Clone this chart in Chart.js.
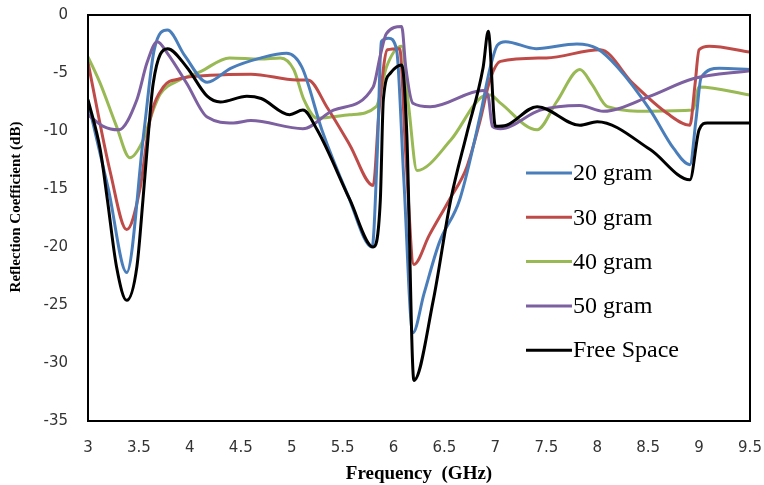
<!DOCTYPE html>
<html><head><meta charset="utf-8">
<script src="https://cdn.jsdelivr.net/npm/chart.js@4"></script>
<style>html,body{margin:0;padding:0;background:#fff}#wrap{width:764px;height:485px}</style>
</head><body><div id="wrap"><canvas id="c" width="764" height="485"></canvas></div>
<script>
const seriesNames = ["20 gram", "30 gram", "40 gram", "50 gram", "Free Space"];
const xTicks = [3, 3.5, 4, 4.5, 5, 5.5, 6, 6.5, 7, 7.5, 8, 8.5, 9, 9.5];
const yTicks = [0, -5, -10, -15, -20, -25, -30, -35];

const freq20 = [3.0,3.2,3.38,3.55,3.65,3.78,3.95,4.17,4.4,4.7,4.95,5.1,5.3,5.55,5.79,5.84,5.88,5.95,6.03,6.1,6.19,6.3,6.45,6.65,6.85,6.95,7.02,7.1,7.4,7.8,8.0,8.2,8.52,8.75,8.91,8.97,9.02,9.2,9.5];
const db20   = [-7.5,-15,-22.2,-10,-3,-1.3,-3.5,-5.8,-4.6,-3.7,-3.3,-4.5,-10,-15.5,-20,-12,-2.3,-2.0,-3.0,-14,-27.4,-24,-19.6,-15.9,-8.7,-4.5,-2.6,-2.3,-2.9,-2.5,-2.9,-4.5,-8.2,-11.5,-12.9,-9,-5.4,-4.6,-4.7];

const freq30 = [3.0,3.22,3.38,3.51,3.61,3.74,3.9,4.2,4.6,5.05,5.16,5.35,5.57,5.8,5.86,5.94,6.06,6.12,6.2,6.35,6.55,6.72,6.85,6.95,7.05,7.5,8.03,8.35,8.69,8.91,8.96,9.0,9.1,9.5];
const db30   = [-4.1,-13.6,-18.5,-15,-9,-6.2,-5.5,-5.2,-5.1,-5.6,-5.6,-8,-11.2,-14.7,-8,-3.0,-2.9,-12,-21.5,-19,-15.9,-13.1,-9.1,-5.5,-4.0,-3.7,-3.0,-5.9,-8.5,-9.5,-6,-3.0,-2.7,-3.2];

const freq40 = [3.0,3.12,3.28,3.41,3.54,3.64,3.71,3.9,4.1,4.39,4.69,4.89,5.02,5.12,5.25,5.57,5.83,5.93,6.08,6.15,6.23,6.56,6.88,6.95,7.05,7.41,7.6,7.83,7.95,8.1,8.52,8.94,9.0,9.5];
const db40   = [-3.6,-5.9,-9.6,-12.3,-10.8,-8.2,-6.8,-5.6,-4.9,-3.7,-3.8,-3.7,-4.7,-7.3,-8.9,-8.6,-7.9,-4.5,-2.7,-8,-13.4,-10.8,-7.0,-6.9,-7.6,-9.9,-7.5,-4.7,-6,-7.9,-8.3,-8.2,-6.2,-6.9];

const freq50 = [3.0,3.15,3.3,3.48,3.58,3.68,3.78,3.97,4.17,4.43,4.6,5.11,5.41,5.8,5.87,5.93,6.08,6.12,6.19,6.36,6.88,6.93,6.97,7.05,7.44,7.83,8.06,8.52,8.94,9.5];
const db50   = [-8.6,-9.6,-9.9,-7.3,-4.1,-2.3,-3.3,-5.9,-8.8,-9.3,-9.1,-9.8,-8.2,-6.2,-3.5,-1.6,-1.0,-4.5,-7.6,-7.9,-6.5,-7.0,-9.6,-9.8,-8.2,-7.8,-8.3,-7.0,-5.5,-4.8];

const freqFS = [3.0,3.12,3.19,3.28,3.38,3.48,3.54,3.58,3.64,3.78,3.97,4.17,4.3,4.56,4.7,4.98,5.11,5.25,5.57,5.8,5.87,5.9,5.97,6.08,6.13,6.2,6.39,6.56,6.72,6.88,6.93,7.0,7.11,7.41,7.83,8.0,8.52,8.91,9.0,9.08,9.5];
const dbFS   = [-7.3,-11.6,-15.9,-21.7,-24.6,-21.7,-15.9,-11.6,-5.9,-2.9,-4.5,-7.0,-7.5,-7.0,-7.2,-8.6,-8.2,-9.9,-15.9,-20,-16,-7.3,-5.0,-4.3,-10.2,-31.5,-24.6,-16,-10.2,-4.5,-1.4,-9.6,-9.5,-7.9,-9.5,-9.2,-11.6,-14.2,-9.9,-9.3,-9.3];

const colors = ["#4a7ebb", "#be4b48", "#98b954", "#7d60a0", "#000000"];
const freqs = [freq20, freq30, freq40, freq50, freqFS];
const dbs = [db20, db30, db40, db50, dbFS];
const drawOrder = [2, 3, 4, 1, 0];
const yTitle = "Reflection Coefficient (dB)";

const datasets = seriesNames.map((name, i) => ({
  label: name,
  data: freqs[i].map((f, j) => ({x: f, y: dbs[i][j]})),
  borderColor: colors[i],
  backgroundColor: colors[i],
  borderWidth: 3,
  pointRadius: 0,
  fill: false,
  cubicInterpolationMode: 'monotone',
  order: drawOrder[i]
}));

const boxAndLegend = {
  id: 'boxAndLegend',
  afterDraw(chart) {
    const ctx = chart.ctx, a = chart.chartArea;
    ctx.save();
    ctx.strokeStyle = '#000';
    ctx.lineWidth = 2;
    ctx.strokeRect(a.left, a.top, a.right - a.left, a.bottom - a.top);
    // y-axis title
    ctx.save();
    ctx.translate(16, 207);
    ctx.rotate(-Math.PI / 2);
    ctx.font = 'bold 15px "Liberation Serif", serif';
    ctx.textAlign = 'center';
    ctx.textBaseline = 'middle';
    ctx.fillStyle = '#000';
    ctx.fillText(yTitle, 0, 0);
    ctx.restore();
    // legend
    const x0 = 526, x1 = 572, y0 = 173, dy = 44.3;
    ctx.font = '24px "Liberation Serif", serif';
    ctx.textBaseline = 'middle';
    seriesNames.forEach((n, i) => {
      const y = y0 + i * dy;
      ctx.strokeStyle = colors[i];
      ctx.lineWidth = 3;
      ctx.beginPath(); ctx.moveTo(x0, y); ctx.lineTo(x1, y); ctx.stroke();
      ctx.fillStyle = '#000';
      ctx.fillText(n, x1 + 1, y + 1);
    });
    ctx.restore();
  }
};

function zeroPad(s) { s.paddingTop = 0; s.paddingBottom = 0; s.paddingLeft = 0; s.paddingRight = 0; }

new Chart(document.getElementById('c'), {
  type: 'line',
  data: {datasets},
  options: {
    responsive: false,
    animation: false,
    layout: {padding: {top: 15, right: 14, left: 0, bottom: 0}},
    plugins: {legend: {display: false}, tooltip: {enabled: false}},
    scales: {
      x: {
        type: 'linear', min: 3, max: 9.5,
        afterBuildTicks: s => { s.ticks = xTicks.map(v => ({value: v})); },
        afterFit: s => { s.height = 64; zeroPad(s); },
        grid: {display: false, drawTicks: false},
        border: {display: false},
        ticks: {padding: 18, color: '#333', callback: v => String(v), font: {family: '"DejaVu Sans", sans-serif', size: 15}, maxRotation: 0, autoSkip: false},
        title: {display: true, text: 'Frequency  (GHz)', color: '#000', padding: 0, font: {family: '"Liberation Serif", serif', size: 19, weight: 'bold'}}
      },
      y: {
        type: 'linear', min: -35, max: 0,
        afterBuildTicks: s => { s.ticks = yTicks.map(v => ({value: v})); },
        afterFit: s => { s.width = 88; zeroPad(s); },
        grid: {display: false, drawTicks: false},
        border: {display: false},
        ticks: {padding: 20, color: '#333', callback: v => String(v), font: {family: '"DejaVu Sans", sans-serif', size: 15}, autoSkip: false},
        title: {display: false}
      }
    }
  },
  plugins: [boxAndLegend]
});
</script></body></html>
